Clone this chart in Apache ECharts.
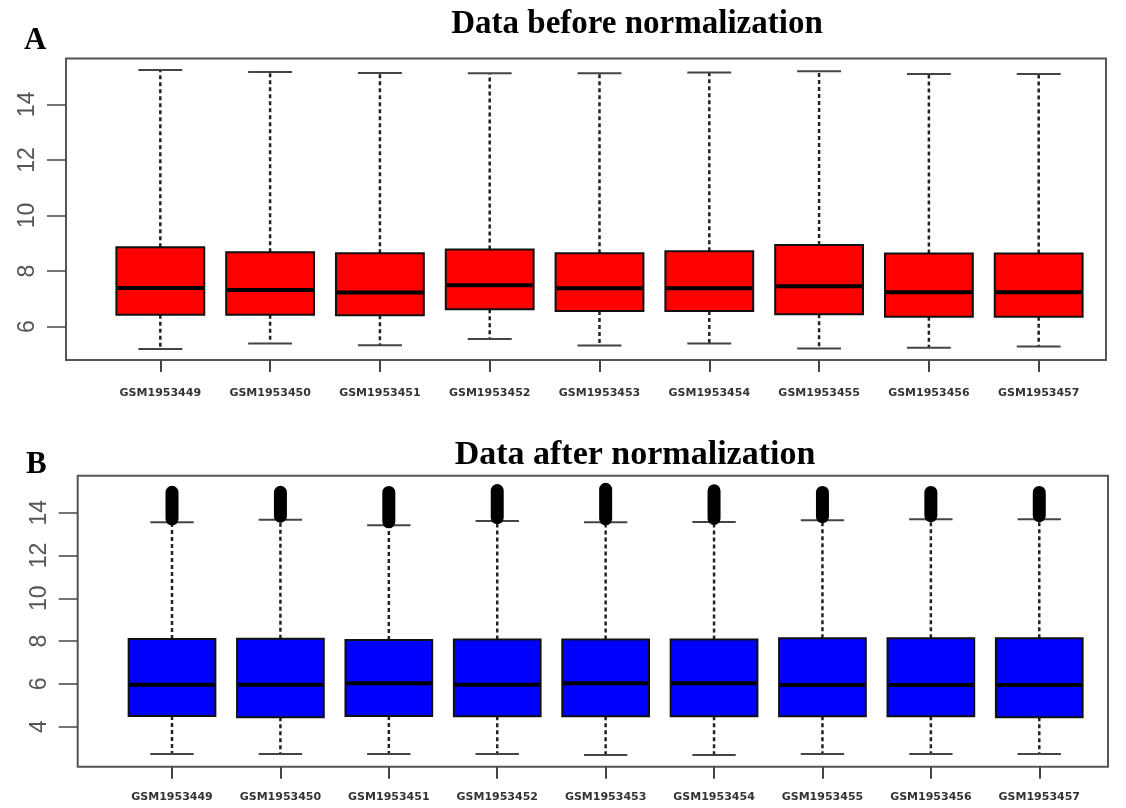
<!DOCTYPE html>
<html>
<head>
<meta charset="utf-8">
<script src="https://cdn.jsdelivr.net/npm/echarts@6/dist/echarts.min.js"></script>
<style>
  html, body { margin: 0; padding: 0; background: #fff; }
  #chart { width: 1126px; height: 808px; }
</style>
</head>
<body>
<div id="chart"></div>
<script>
// ---- Data ----
const samples = ['GSM1953449','GSM1953450','GSM1953451','GSM1953452','GSM1953453','GSM1953454','GSM1953455','GSM1953456','GSM1953457'];
const samplePositions = [1, 2, 3, 4, 5, 6, 7, 8, 9];

// Panel A: data before normalization
const beforeLow    = [5.20, 5.39, 5.33, 5.56, 5.32, 5.39, 5.21, 5.24, 5.29];
const beforeQ1     = [6.43, 6.43, 6.41, 6.63, 6.56, 6.56, 6.45, 6.36, 6.36];
const beforeMedian = [7.39, 7.32, 7.23, 7.49, 7.38, 7.38, 7.45, 7.24, 7.24];
const beforeQ3     = [8.86, 8.68, 8.64, 8.78, 8.64, 8.71, 8.94, 8.63, 8.63];
const beforeHigh   = [15.24, 15.16, 15.13, 15.12, 15.12, 15.15, 15.19, 15.09, 15.09];

// Panel B: data after normalization
const afterLow     = [2.72, 2.72, 2.72, 2.72, 2.68, 2.68, 2.72, 2.72, 2.72];
const afterQ1      = [4.50, 4.44, 4.50, 4.49, 4.49, 4.49, 4.49, 4.49, 4.44];
const afterMedian  = [5.96, 5.96, 6.03, 5.96, 6.03, 6.03, 5.95, 5.95, 5.95];
const afterQ3      = [8.10, 8.11, 8.05, 8.08, 8.08, 8.08, 8.13, 8.13, 8.13];
const afterHigh    = [13.55, 13.67, 13.41, 13.61, 13.55, 13.57, 13.65, 13.70, 13.70];
const afterOutlierTop = [15.26, 15.26, 15.25, 15.34, 15.40, 15.33, 15.25, 15.25, 15.25];

const ticksA = [6, 8, 10, 12, 14];
const ticksB = [4, 6, 8, 10, 12, 14];

// ---- Build series data ----
const dataA = samplePositions.map((p, i) => [p, beforeLow[i], beforeQ1[i], beforeMedian[i], beforeQ3[i], beforeHigh[i]]);
const dataB = samplePositions.map((p, i) => [p, afterLow[i], afterQ1[i], afterMedian[i], afterQ3[i], afterHigh[i]]);
const outB  = samplePositions.map((p, i) => [p, afterHigh[i], afterOutlierTop[i]]);

function boxRenderer(fill) {
  return function (params, api) {
    const x = api.value(0);
    const lo = api.coord([x, api.value(1)]);
    const q1 = api.coord([x, api.value(2)]);
    const md = api.coord([x, api.value(3)]);
    const q3 = api.coord([x, api.value(4)]);
    const hi = api.coord([x, api.value(5)]);
    const unit = api.size([1, 0])[0];
    const bw = unit * 0.8, cw = bw * 0.5;
    const cx = lo[0];
    const dash = { stroke: '#222', lineWidth: 2.5, lineDash: [4, 3] };
    const cap = { stroke: '#444', lineWidth: 2 };
    return {
      type: 'group',
      children: [
        { type: 'line', shape: { x1: cx, y1: q3[1], x2: cx, y2: hi[1] }, style: dash },
        { type: 'line', shape: { x1: cx, y1: q1[1], x2: cx, y2: lo[1] }, style: dash },
        { type: 'line', shape: { x1: cx - cw / 2, y1: hi[1], x2: cx + cw / 2, y2: hi[1] }, style: cap },
        { type: 'line', shape: { x1: cx - cw / 2, y1: lo[1], x2: cx + cw / 2, y2: lo[1] }, style: cap },
        { type: 'rect', shape: { x: cx - bw / 2, y: q3[1], width: bw, height: q1[1] - q3[1] },
          style: { fill: fill, stroke: '#111', lineWidth: 2 } },
        { type: 'line', shape: { x1: cx - bw / 2 + 1, y1: md[1], x2: cx + bw / 2 - 1, y2: md[1] },
          style: { stroke: '#000', lineWidth: 4 } }
      ]
    };
  };
}

function outlierRenderer(params, api) {
  const x = api.value(0);
  const a = api.coord([x, api.value(1)]);
  const b = api.coord([x, api.value(2)]);
  const w = 13;
  return {
    type: 'rect',
    shape: { x: a[0] - w / 2, y: b[1], width: w, height: a[1] - b[1] + 3, r: w / 2 },
    style: { fill: '#000' }
  };
}

const yLabelStyle = { fontFamily: 'Liberation Sans', fontSize: 23, color: '#555', rotate: 90, margin: 27 };
const xLabelStyle = { fontFamily: 'DejaVu Sans', fontWeight: 'bold', fontSize: 11, color: '#333' };
const serifBold = { fontFamily: 'Liberation Serif', fontWeight: 'bold', color: '#000' };

const chart = echarts.init(document.getElementById('chart'), null, { renderer: 'canvas' });
chart.setOption({
  backgroundColor: '#fff',
  animation: false,
  title: [
    { text: 'A', left: 19, top: 20, textStyle: Object.assign({ fontSize: 31 }, serifBold) },
    { text: 'Data before normalization', left: 632, top: 3, textAlign: 'center',
      textStyle: Object.assign({ fontSize: 33 }, serifBold) },
    { text: 'B', left: 21, top: 444, textStyle: Object.assign({ fontSize: 31 }, serifBold) },
    { text: 'Data after normalization', left: 630, top: 433, textAlign: 'center',
      textStyle: Object.assign({ fontSize: 34 }, serifBold) }
  ],
  grid: [
    { left: 66, right: 20, top: 58.5, bottom: 448, show: true, borderColor: '#555', borderWidth: 2, backgroundColor: 'transparent' },
    { left: 77.7, right: 18, top: 475.7, bottom: 41.3, show: true, borderColor: '#555', borderWidth: 2, backgroundColor: 'transparent' }
  ],
  xAxis: [
    { type: 'value', gridIndex: 0, min: 0.141, max: 9.613,
      axisLine: { show: false }, splitLine: { show: false },
      axisTick: { show: true, customValues: samplePositions, length: 12, lineStyle: { color: '#444', width: 2 } },
      axisLabel: Object.assign({ customValues: samplePositions, margin: 28,
        formatter: v => samples[Math.round(v) - 1] }, xLabelStyle) },
    { type: 'value', gridIndex: 1, min: 0.130, max: 9.634,
      axisLine: { show: false }, splitLine: { show: false },
      axisTick: { show: true, customValues: samplePositions, length: 12, lineStyle: { color: '#444', width: 2 } },
      axisLabel: Object.assign({ customValues: samplePositions, margin: 25,
        formatter: v => samples[Math.round(v) - 1] }, xLabelStyle) }
  ],
  yAxis: [
    { type: 'value', gridIndex: 0, min: 4.80, max: 15.65,
      axisLine: { show: false }, splitLine: { show: false },
      axisTick: { show: true, customValues: ticksA, length: 19, lineStyle: { color: '#444', width: 1.5 } },
      axisLabel: Object.assign({ customValues: ticksA }, yLabelStyle) },
    { type: 'value', gridIndex: 1, min: 2.13, max: 15.73,
      axisLine: { show: false }, splitLine: { show: false },
      axisTick: { show: true, customValues: ticksB, length: 19, lineStyle: { color: '#444', width: 1.5 } },
      axisLabel: Object.assign({ customValues: ticksB }, yLabelStyle) }
  ],
  series: [
    { type: 'custom', name: 'before', xAxisIndex: 0, yAxisIndex: 0, data: dataA,
      encode: { x: 0, y: [1, 2, 3, 4, 5] }, renderItem: boxRenderer('#ff0000'), clip: false },
    { type: 'custom', name: 'after', xAxisIndex: 1, yAxisIndex: 1, data: dataB,
      encode: { x: 0, y: [1, 2, 3, 4, 5] }, renderItem: boxRenderer('#0000ff'), clip: false },
    { type: 'custom', name: 'after outliers', xAxisIndex: 1, yAxisIndex: 1, data: outB,
      encode: { x: 0, y: [1, 2] }, renderItem: outlierRenderer, clip: false }
  ]
});
</script>
</body>
</html>
